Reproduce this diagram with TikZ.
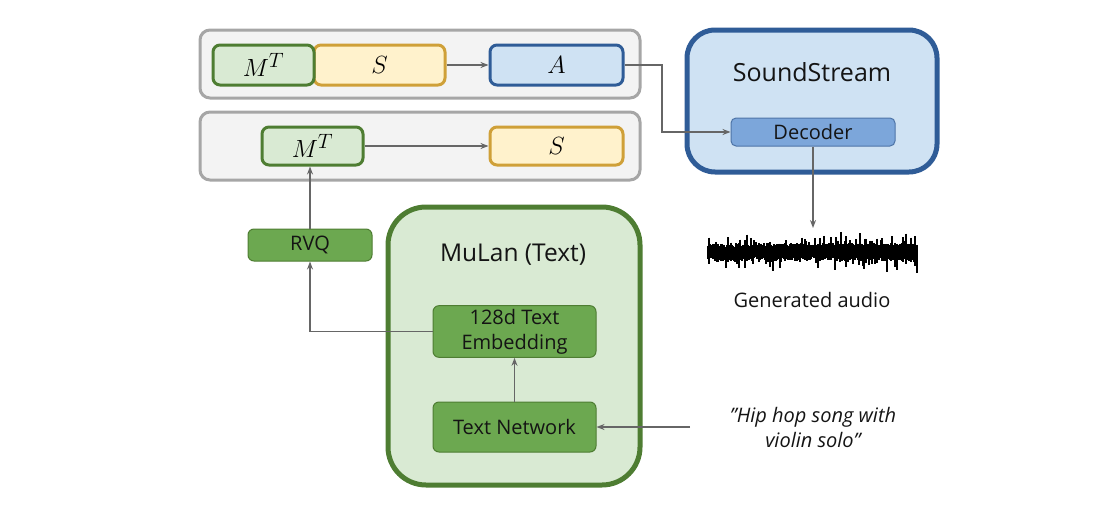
\documentclass[tikz,border=0pt]{standalone}
\usepackage{fontspec}
\setmainfont{Open Sans}
\usetikzlibrary{arrows.meta, calc}
\definecolor{pfeilgrau}{RGB}{102,102,102}
\definecolor{rahmen}{RGB}{166,166,166}
\definecolor{gruen}{RGB}{78,125,50}
\definecolor{gruen-mid}{RGB}{108,168,80}
\definecolor{gruen-lighter}{RGB}{217,234,211}
\definecolor{gold}{RGB}{207,160,56}
\definecolor{gold-lighter}{RGB}{255,242,204}
\definecolor{blau}{RGB}{47,92,151}
\definecolor{blau-mid}{RGB}{124,166,218}
\definecolor{blau-lighter}{RGB}{207,226,243}
\colorlet{rahmen-lighter}{rahmen!14}
\colorlet{schrift}{black!92}

\begin{document}
\begin{tikzpicture}[x=1pt, y=-1pt,
    pfad/.style={line width=1.5pt, pfeilgrau, -{Stealth[length=8pt,width=6pt]}},
    leiste/.style={draw=rahmen, fill=rahmen-lighter, line width=3pt, rounded corners=10pt, minimum width=440pt, minimum height=68pt},
    token/.style={line width=3pt, rounded corners=7pt, minimum height=40pt, inner sep=0pt, text=black, font=\fontsize{28}{32}\selectfont},
    mtok/.style={token, draw=gruen, fill=gruen-lighter, minimum width=101pt},
    stok/.style={token, draw=gold, fill=gold-lighter},
    atok/.style={token, draw=blau, fill=blau-lighter, minimum width=133pt},
    modul/.style={line width=5pt, inner sep=0pt},
    block/.style={draw=gruen, fill=gruen-mid, line width=1pt, rounded corners=6pt, text=schrift, align=center, font=\fontsize{20}{25}\selectfont}]

    \useasboundingbox (0,0) rectangle (1110,514);

    % upper row: M^T S -> A
    \node[leiste] (reiheA) at (420,64) {};
    \node[stok, minimum width=131pt] (sA) at (379.5,65) {$S$};
    \node[mtok] (mtA) at (263.5,65) {$M^T$};
    \node[atok] (aA) at (556.5,65) {$A$};

    % lower row: M^T -> S
    \node[leiste] (reiheB) at (420,146) {};
    \node[mtok, minimum height=38pt] (mtB) at (312.5,146) {$M^T$};
    \node[stok, minimum width=133pt, minimum height=38pt] (sB) at (556.5,146) {$S$};

    % SoundStream
    \node[modul, draw=blau, fill=blau-lighter, rounded corners=28pt, minimum width=250pt, minimum height=142pt] (ss) at (812,101) {};
    \node[text=schrift, font=\fontsize{25}{29}\selectfont] (sstitel) at (812,72) {SoundStream};
    \node[draw=blau!85, fill=blau-mid, line width=1pt, rounded corners=5pt, minimum width=164pt, minimum height=28pt, inner sep=0pt, text=schrift, font=\fontsize{20}{24}\selectfont] (dec) at (813,132) {Decoder};

    % waveform
    \pgfmathsetseed{42}
    \foreach \i in {0,...,209}{
        \pgfmathsetmacro\hoch{5+4*rnd+14*(rnd>0.62)*rnd*rnd}
        \pgfmathsetmacro\tief{5+4*rnd+14*(rnd>0.66)*rnd*rnd}
        \draw[black, line width=1.3pt] ({708+\i},{252-\hoch}) -- ({708+\i},{252+\tief});
    }
    \coordinate (welle) at (812,228);
    \node[text=schrift, font=\fontsize{20}{24}\selectfont] (audio) at (812,300) {Generated audio};

    % MuLan
    \node[modul, draw=gruen, fill=gruen-lighter, rounded corners=38pt, minimum width=252pt, minimum height=278pt] (mulan) at (514,346) {};
    \node[text=schrift, font=\fontsize{24.5}{28}\selectfont] (mulantitel) at (513,255) {MuLan (Text)};
    \node[block, minimum width=163pt, minimum height=51pt] (emb) at (514.5,331.5) {128d Text\\Embedding};
    \node[block, minimum width=163pt, minimum height=50pt] (tn) at (514.5,427) {Text Network};
    \node[block, minimum width=124pt, minimum height=32pt, inner sep=0pt] (rvq) at (310,245) {RVQ};

    \node[text=schrift, align=center, font=\fontsize{20}{25}\selectfont\itshape] (prompt) at (813,427) {"Hip hop song with\\violin solo"};
    \coordinate (promptin) at (690,427);
    \coordinate (knick) at (662,65);

    % connectors
    \draw[pfad] (sA.east) -- (aA.west);
    \draw[pfad] (mtB.east) -- (sB.west);
    \draw[pfad] (aA.east) -- (knick) |- (dec.west);
    \draw[pfad] (dec.south) -- (dec.south |- welle);
    \draw[pfad] (rvq.north) -- (rvq.north |- mtB.south);
    \draw[pfad] (emb.west) -| (rvq.south);
    \draw[pfad] (tn.north) -- (emb.south);
    \draw[pfad] (promptin) -- (tn.east);

\end{tikzpicture}
\end{document}
